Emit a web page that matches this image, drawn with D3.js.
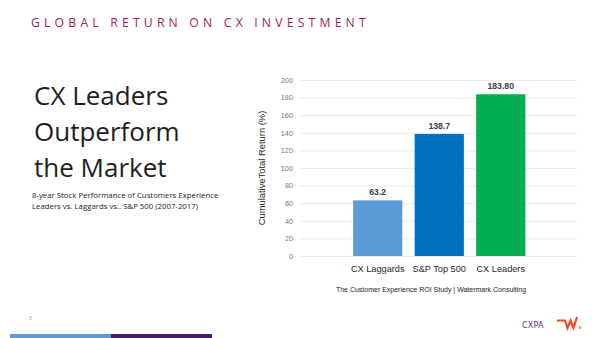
<!DOCTYPE html>
<html><head><meta charset="utf-8">
<script src="https://cdn.jsdelivr.net/npm/d3@7"></script>
<style>body{margin:0;background:#fff}svg{display:block}</style>
</head><body><div id="c"></div>
<script>
const categories = ["CX Laggards", "S&P Top 500", "CX Leaders"];
const values = [63.2, 138.7, 183.8];
const valueLabels = ["63.2", "138.7", "183.80"];
const barColors = ["#5B9BD5", "#0070C0", "#00B050"];
const yTicks = [0, 20, 40, 60, 80, 100, 120, 140, 160, 180, 200];

const W = 600, H = 338;
const svg = d3.select("#c").append("svg").attr("width", W).attr("height", H);

// slide header
svg.append("text").attr("x", 31).attr("y", 27)
  .attr("font-family", "'Open Sans', sans-serif").attr("font-size", 12.2)
  .attr("letter-spacing", 4.2).attr("fill", "#A0195B")
  .text("GLOBAL RETURN ON CX INVESTMENT");

const big = ["CX Leaders", "Outperform", "the Market"];
svg.selectAll("text.big").data(big).join("text").attr("class", "big")
  .attr("x", 34).attr("y", (d, i) => 105 + i * 36)
  .attr("font-family", "'Open Sans', sans-serif").attr("font-size", 26)
  .attr("fill", "#1e1e1e").text(d => d);

const sub = ["8-year Stock Performance of Customers Experience", "Leaders vs. Laggards vs.. S&P 500 (2007-2017)"];
svg.selectAll("text.sub").data(sub).join("text").attr("class", "sub")
  .attr("x", 32).attr("y", (d, i) => 198 + i * 11)
  .attr("font-family", "'Open Sans', sans-serif").attr("font-size", 7.8)
  .attr("fill", "#222").text(d => d);

// chart
const y = d3.scaleLinear().domain([0, 200]).range([256, 80]);
const x = d3.scaleBand().domain(categories).range([347, 531.5]).paddingInner(0.2).paddingOuter(0.1);

const grid = svg.append("g").attr("transform", "translate(300,0)")
  .call(d3.axisLeft(y).tickValues(yTicks).tickSize(-277).tickPadding(7));
grid.select(".domain").remove();
grid.selectAll(".tick line").attr("stroke", "#e4e4e4").attr("stroke-width", 0.8);
grid.selectAll(".tick text").attr("font-family", "Arial, 'Liberation Sans', sans-serif")
  .attr("font-size", 7.3).attr("fill", "#777");

svg.selectAll("rect.bar").data(values).join("rect").attr("class", "bar")
  .attr("x", (d, i) => x(categories[i])).attr("width", x.bandwidth())
  .attr("y", d => y(d)).attr("height", d => y(0) - y(d))
  .attr("fill", (d, i) => barColors[i]);

svg.selectAll("text.vl").data(values).join("text").attr("class", "vl")
  .attr("x", (d, i) => x(categories[i]) + x.bandwidth() / 2).attr("y", d => y(d) - 5)
  .attr("text-anchor", "middle").attr("font-family", "Arial, 'Liberation Sans', sans-serif")
  .attr("font-size", 8.7).attr("font-weight", "bold").attr("fill", "#404040")
  .text((d, i) => valueLabels[i]);

const xa = svg.append("g").attr("transform", "translate(0,256)")
  .call(d3.axisBottom(x).tickSize(0).tickPadding(9));
xa.select(".domain").remove();
xa.selectAll(".tick text").attr("font-family", "Arial, 'Liberation Sans', sans-serif")
  .attr("font-size", 9.2).attr("fill", "#1e1e1e");

svg.append("text").attr("transform", "translate(265,168) rotate(-90)")
  .attr("text-anchor", "middle").attr("font-family", "Arial, 'Liberation Sans', sans-serif")
  .attr("font-size", 9.4).attr("fill", "#1e1e1e").text("CumulativeTotal Return (%)");

svg.append("text").attr("x", 431).attr("y", 292).attr("text-anchor", "middle")
  .attr("font-family", "Arial, 'Liberation Sans', sans-serif").attr("font-size", 7)
  .attr("fill", "#1e1e1e").text("The Customer Experience ROI Study | Watermark Consulting");

// footer
svg.append("text").attr("x", 29).attr("y", 320).attr("font-family", "'Open Sans', sans-serif")
  .attr("font-size", 4.5).attr("fill", "#888").text("3");
svg.append("rect").attr("x", 10).attr("y", 334).attr("width", 101).attr("height", 4).attr("fill", "#5B9BD5");
svg.append("rect").attr("x", 111).attr("y", 334).attr("width", 101).attr("height", 4).attr("fill", "#4A1A6B");

svg.append("text").attr("x", 522).attr("y", 328).attr("font-family", "'DejaVu Sans', sans-serif")
  .attr("font-size", 8).attr("fill", "#5A2D86").attr("letter-spacing", 0.2).text("CXPA");
svg.append("path").attr("d", "M557,320.5 L565,320.5 L567.5,328 L570.5,320.5 L573.5,328 L577,317")
  .attr("fill", "none").attr("stroke", "#EE4B2B").attr("stroke-width", 2.2).attr("stroke-linejoin", "miter");
svg.append("text").attr("x", 578.5).attr("y", 328.5).attr("font-family", "'Liberation Sans', Arial, sans-serif")
  .attr("font-size", 5.5).attr("font-weight", "bold").attr("fill", "#EE4B2B").text("s");
</script></body></html>
